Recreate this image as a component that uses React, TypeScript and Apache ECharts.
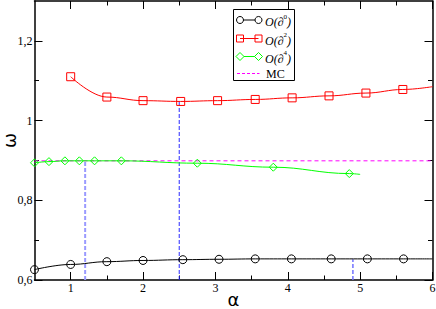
import React, { useEffect, useRef } from "react";
import * as echarts from "echarts";

// ---- data ----
const alphaD0 = [0.5, 1.0, 1.5, 2.0, 2.55, 3.05, 3.55, 4.05, 4.6, 5.1, 5.6];
const omegaD0 = [0.626, 0.639, 0.646, 0.649, 0.651, 0.652, 0.653, 0.653, 0.653, 0.653, 0.653];
const endD0 = [6.0, 0.653];

const alphaD2 = [1.0, 1.5, 2.0, 2.52, 3.03, 3.55, 4.06, 4.57, 5.08, 5.59];
const omegaD2 = [1.11, 1.059, 1.05, 1.048, 1.05, 1.053, 1.057, 1.062, 1.069, 1.078];
const endD2 = [6.0, 1.085];

const alphaD4 = [0.5, 0.7, 0.92, 1.12, 1.33, 1.7, 2.75, 3.8, 4.85];
const omegaD4 = [0.894, 0.897, 0.899, 0.899, 0.899, 0.899, 0.893, 0.883, 0.867];
const endD4 = [5.0, 0.865];

const mcOmega = 0.899;
const mcRange = [0.5, 6.0];

const guideAlpha = [1.2, 2.5, 4.9];
const guideTop = [0.899, 1.048, 0.652];
const guideColors = ["#9a9aff", "#2a2aff", "#7272ff"];
const guideWidths = [2, 1, 1.5];

const xMajor = [1, 2, 3, 4, 5, 6];
const xMinor = [1.5, 2.5, 3.5, 4.5, 5.5];
const yMajor = [0.6, 0.8, 1.0, 1.2];
const yMinor = [0.7, 0.9, 1.1];

const legendNames = ["0", "2", "4"];

const X_MIN = 0.5, X_MAX = 6, Y_MIN = 0.6, Y_MAX = 1.3;
const SERIF = "'Liberation Serif', 'DejaVu Serif', serif";

function pts(xs: number[], ys: number[], end?: number[]) {
  const d: any[] = xs.map((x, i) => [x, ys[i]]);
  if (end) d.push({ value: end, symbol: "none" });
  return d;
}

function xAx(pos: "top" | "bottom", major: boolean, extra: any = {}) {
  return {
    type: "value",
    position: pos,
    min: X_MIN,
    max: X_MAX,
    splitLine: { show: false },
    axisLine: { show: major, lineStyle: { color: "#000", width: 1.5 } },
    axisTick: {
      show: true,
      inside: true,
      length: major ? 8 : 4.5,
      customValues: major ? xMajor : xMinor,
      lineStyle: { color: "#000", width: 1 },
    },
    axisLabel: { show: false },
    ...extra,
  };
}

function yAx(pos: "left" | "right", major: boolean, extra: any = {}) {
  return {
    type: "value",
    position: pos,
    min: Y_MIN,
    max: Y_MAX,
    splitLine: { show: false },
    axisLine: { show: major, lineStyle: { color: "#000", width: 1.5 } },
    axisTick: {
      show: true,
      inside: true,
      length: major ? 8 : 4.5,
      customValues: major ? yMajor : yMinor,
      lineStyle: { color: "#000", width: 1 },
    },
    axisLabel: { show: false },
    ...extra,
  };
}

export default function App() {
  const ref = useRef<HTMLDivElement>(null);
  useEffect(() => {
    if (!ref.current) return;
    const chart = echarts.init(ref.current, null, { renderer: "svg" });

    const guideSeries = guideAlpha.map((a, i) => ({
      type: "line",
      name: "guide" + i,
      data: [
        [a, Y_MIN],
        [a, guideTop[i]],
      ],
      symbol: "none",
      lineStyle: { color: guideColors[i], width: guideWidths[i], type: [4, 2] },
      z: 1,
    }));

    // legend graphic
    const LX = 233.5, LY = 9.5, LW = 61, LH = 71;
    const rowY = [20, 38.5, 56.5, 73.5];
    const s1 = 240, s2 = 258.5;
    const legendGraphics: any[] = [
      { type: "rect", shape: { x: LX, y: LY, width: LW, height: LH }, style: { fill: "#fff", stroke: "#000", lineWidth: 1 }, z: 100 },
      // row 1: circles
      { type: "line", shape: { x1: s1, y1: rowY[0], x2: s2, y2: rowY[0] }, style: { stroke: "#000", lineWidth: 1 }, z: 101 },
      { type: "circle", shape: { cx: s1, cy: rowY[0], r: 3.5 }, style: { fill: "#fff", stroke: "#000", lineWidth: 1 }, z: 102 },
      { type: "circle", shape: { cx: s2, cy: rowY[0], r: 3.5 }, style: { fill: "#fff", stroke: "#000", lineWidth: 1 }, z: 102 },
      // row 2: squares
      { type: "line", shape: { x1: s1, y1: rowY[1], x2: s2, y2: rowY[1] }, style: { stroke: "#ff0000", lineWidth: 1 }, z: 101 },
      { type: "rect", shape: { x: s1 - 3.5, y: rowY[1] - 3.5, width: 7, height: 7 }, style: { fill: "none", stroke: "#ff0000", lineWidth: 1 }, z: 102 },
      { type: "rect", shape: { x: s2 - 3.5, y: rowY[1] - 3.5, width: 7, height: 7 }, style: { fill: "none", stroke: "#ff0000", lineWidth: 1 }, z: 102 },
      // row 3: diamonds
      { type: "line", shape: { x1: s1, y1: rowY[2], x2: s2, y2: rowY[2] }, style: { stroke: "#00ff00", lineWidth: 1 }, z: 101 },
      { type: "polygon", shape: { points: [[s1, rowY[2] - 4], [s1 + 4, rowY[2]], [s1, rowY[2] + 4], [s1 - 4, rowY[2]]] }, style: { fill: "#fff", stroke: "#00ff00", lineWidth: 1 }, z: 102 },
      { type: "polygon", shape: { points: [[s2, rowY[2] - 4], [s2 + 4, rowY[2]], [s2, rowY[2] + 4], [s2 - 4, rowY[2]]] }, style: { fill: "#fff", stroke: "#00ff00", lineWidth: 1 }, z: 102 },
      // row 4: MC
      { type: "line", shape: { x1: s1 - 3, y1: rowY[3], x2: s2 + 1, y2: rowY[3] }, style: { stroke: "#ff00ff", lineWidth: 1, lineDash: [3, 2] }, z: 101 },
      {
        type: "text",
        x: 266,
        y: rowY[3],
        style: { text: "MC", font: `12px ${SERIF}`, fill: "#000", verticalAlign: "middle", align: "left" },
        z: 102,
      },
    ];
    legendNames.forEach((n, i) => {
      legendGraphics.push({
        type: "text",
        x: 265,
        y: rowY[i] - 7,
        style: {
          text: `{i|O(∂}{s|${n}}{i|)}`,
          fill: "#000",
          rich: {
            i: { fontFamily: SERIF, fontStyle: "italic", fontSize: 12, lineHeight: 15, verticalAlign: "bottom" },
            s: { fontFamily: SERIF, fontSize: 7, lineHeight: 15, verticalAlign: "top" },
          },
        },
        z: 102,
      });
    });

    chart.setOption({
      animation: false,
      backgroundColor: "#fff",
      grid: { left: 34.5, right: 3.5, top: 1, bottom: 29, containLabel: false, outerBoundsMode: "none" },
      xAxis: [
        xAx("bottom", true, {
          name: "α",
          nameLocation: "middle",
          nameGap: 10,
          nameMoveOverlap: false,
          nameTextStyle: {
            fontFamily: "'DejaVu Sans', sans-serif",
            fontSize: 18,
            lineHeight: 18,
            color: "#000",
            verticalAlign: "top",
          },
          axisLabel: {
            show: true,
            customValues: xMajor,
            margin: 2,
            fontFamily: SERIF,
            fontSize: 12,
            color: "#000",
          },
        }),
        xAx("bottom", false),
        xAx("top", true),
        xAx("top", false),
      ],
      yAxis: [
        yAx("left", true, {
          name: "ω",
          nameLocation: "middle",
          nameGap: 16,
          nameRotate: 90,
          nameMoveOverlap: false,
          nameTextStyle: { fontFamily: "'DejaVu Sans', sans-serif", fontSize: 18, lineHeight: 18, color: "#000" },
          axisLabel: {
            show: true,
            customValues: yMajor,
            margin: 2,
            fontFamily: SERIF,
            fontSize: 12,
            color: "#000",
            formatter: (v: number) => String(Math.round(v * 10) / 10).replace(".", ","),
          },
        }),
        yAx("left", false),
        yAx("right", true),
        yAx("right", false),
      ],
      series: [
        ...guideSeries,
        {
          type: "line",
          name: "MC",
          data: [
            [mcRange[0], mcOmega],
            [mcRange[1], mcOmega],
          ],
          symbol: "none",
          lineStyle: { color: "#ff00ff", width: 1, type: [4, 3] },
          z: 2,
        },
        {
          type: "line",
          name: "O(d0)",
          data: pts(alphaD0, omegaD0, endD0),
          smooth: 0.4,
          smoothMonotone: "x",
          symbol: "circle",
          symbolSize: 8,
          showAllSymbol: true,
          lineStyle: { color: "#000", width: 1 },
          itemStyle: { color: "rgba(0,0,0,0)", borderColor: "#000", borderWidth: 1 },
          z: 3,
        },
        {
          type: "line",
          name: "O(d2)",
          data: pts(alphaD2, omegaD2, endD2),
          smooth: 0.4,
          smoothMonotone: "x",
          symbol: "rect",
          symbolSize: 8,
          showAllSymbol: true,
          lineStyle: { color: "#ff0000", width: 1 },
          itemStyle: { color: "rgba(0,0,0,0)", borderColor: "#ff0000", borderWidth: 1 },
          z: 3,
        },
        {
          type: "line",
          name: "O(d4)",
          data: pts(alphaD4, omegaD4, endD4),
          smooth: 0.4,
          smoothMonotone: "x",
          symbol: "diamond",
          symbolSize: [8, 8],
          showAllSymbol: true,
          lineStyle: { color: "#00ff00", width: 1 },
          itemStyle: { color: "rgba(0,0,0,0)", borderColor: "#00ff00", borderWidth: 1 },
          z: 3,
        },
      ],
      graphic: legendGraphics,
    });
    return () => chart.dispose();
  }, []);
  return (
    <div
      ref={ref}
      style={{ position: "fixed", left: 0, top: 0, width: 436, height: 309, background: "#fff" }}
    />
  );
}
